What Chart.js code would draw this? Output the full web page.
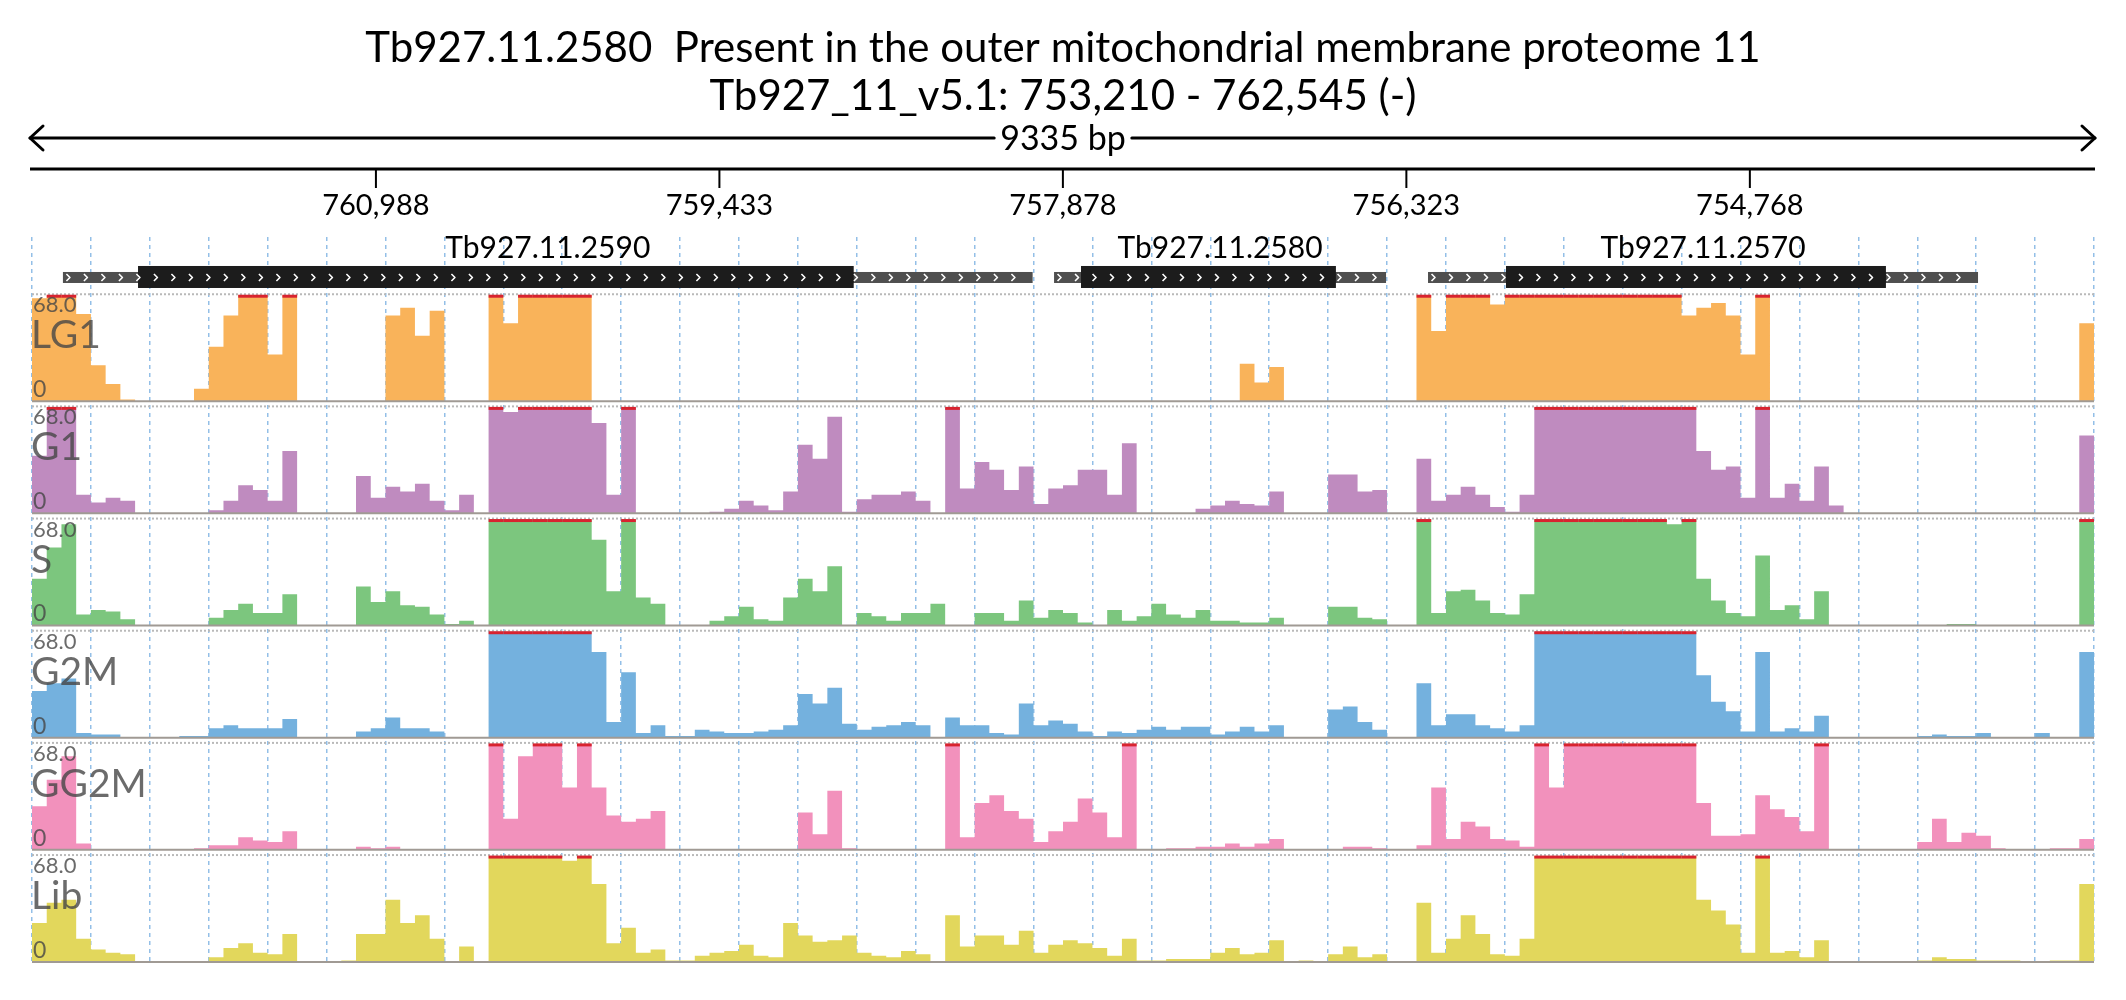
<!DOCTYPE html>
<html>
<head>
<meta charset="utf-8">
<script src="https://cdn.jsdelivr.net/npm/chart.js@4/dist/chart.umd.min.js"></script>
<style>
  html, body { margin: 0; padding: 0; background: #fff; }
  #wrap { width: 2126px; height: 1000px; }
</style>
</head>
<body>
<div id="wrap"><canvas id="graficoCobertura"></canvas></div>
<script>
const regionStart = 753210;
const regionEnd = 762545;
const chromosome = "Tb927_11_v5.1";
const geneId = "Tb927.11.2580";
const geneDescription = "Present in the outer mitochondrial membrane proteome 11";
const maxCoverage = 68;
const axisTicks = [760988, 759433, 757878, 756323, 754768];

const trackNames = ["LG1", "G1", "S", "G2M", "GG2M", "Lib"];
const trackColors = ["#f9b35a", "#bf8bbf", "#7cc67e", "#74b1de", "#f291bc", "#e2d75c"];

// gene models (bp): outer ends and coding part
const geneNames = ["Tb927.11.2590", "Tb927.11.2580", "Tb927.11.2570"];
const geneStarts = [762405, 757918, 756225];
const cdsStarts = [762065, 757796, 755872];
const cdsEnds = [758825, 756642, 754152];
const geneEnds = [758015, 756415, 753735];

// coverage per bin, left (762,545) to right (753,210); values above 68 are clipped
const lg1Values = [
  66,80,75,56, 23,11,1,0, 0,0,0,8, 35,55,80,72, 30,80,0,0,
  0,0,0,0, 55,60,42,58, 0,0,0,80, 50,80,80,80, 70,75,0,0,
  0,0,0,0, 0,0,0,0, 0,0,0,0, 0,0,0,0, 0,0,0,0,
  0,0,0,0, 0,0,0,0, 0,0,0,0, 0,0,0,0, 0,0,0,0,
  0,0,24,12, 22,0,0,0, 0,0,0,0, 0,0,80,45, 80,80,80,62,
  75,80,80,80, 80,80,80,80, 80,80,80,75, 55,60,63,55, 30,70,0,0,
  0,0,0,0, 0,0,0,0, 0,0,0,0, 0,0,0,0, 0,0,0,50
];
const g1Values = [
  37,80,75,12, 7,10,8,0, 0,0,0,0, 2,8,18,15, 8,40,0,0,
  0,0,24,10, 17,14,19,8, 2,12,0,80, 65,80,80,80, 80,80,58,12,
  80,0,0,0, 0,0,1,3, 8,5,2,14, 44,35,62,1, 9,12,12,14,
  8,0,80,16, 33,28,15,30, 6,16,18,28, 28,12,45,0, 0,0,0,3,
  5,8,6,5, 14,0,0,0, 25,25,14,15, 0,0,35,8, 12,17,12,4,
  1,12,80,80, 80,80,80,80, 80,80,80,70, 80,40,28,30, 10,70,10,19,
  8,30,5,0, 0,0,0,0, 0,0,0,0, 0,0,0,0, 0,0,0,50
];
const sValues = [
  30,50,65,7, 10,9,4,0, 0,0,0,0, 5,10,14,8, 8,20,0,0,
  0,0,25,15, 22,13,12,7, 1,3,0,80, 75,80,80,80, 80,80,55,22,
  80,18,14,0, 0,0,3,6, 12,4,3,18, 30,22,38,0, 8,6,3,8,
  8,14,0,0, 8,8,3,16, 5,10,8,2, 0,10,3,6, 14,7,5,10,
  3,3,2,2, 5,0,0,0, 12,12,5,4, 0,0,80,8, 22,23,16,8,
  7,20,80,80, 80,80,80,80, 80,80,80,65, 80,30,16,8, 6,45,10,13,
  4,22,0,0, 0,0,0,0, 0,0,1,1, 0,0,0,0, 0,0,0,80
];
const g2mValues = [
  30,35,38,3, 2,2,0,0, 0,0,1,1, 6,8,6,6, 6,12,0,0,
  0,0,4,6, 13,6,6,4, 0,0,0,80, 70,80,80,80, 70,80,55,10,
  42,3,8,1, 1,5,4,3, 3,4,5,8, 28,22,32,9, 5,7,8,10,
  8,0,13,8, 8,3,2,22, 8,11,9,4, 1,4,3,5, 7,5,7,7,
  2,4,7,4, 8,0,0,0, 18,20,10,5, 0,0,35,8, 15,15,8,6,
  4,8,80,80, 80,80,80,80, 80,80,80,70, 80,40,23,17, 4,55,4,6,
  4,14,0,0, 0,0,0,0, 1,2,1,1, 3,0,0,0, 3,0,0,55
];
const gg2mValues = [
  28,45,60,4, 0,0,0,0, 0,0,0,1, 3,3,8,6, 5,12,0,0,
  0,0,2,1, 2,0,0,0, 0,0,0,80, 20,60,80,80, 40,80,40,22,
  18,20,25,0, 0,0,0,0, 0,0,0,0, 24,10,38,1, 0,0,0,0,
  0,0,80,8, 30,35,25,20, 5,12,18,33, 24,8,80,0, 0,1,1,2,
  2,4,2,4, 7,0,0,0, 0,2,2,1, 0,0,3,40, 7,18,15,7,
  6,2,80,40, 75,80,80,80, 80,80,80,80, 80,30,9,9, 10,35,26,21,
  12,80,0,0, 0,0,0,0, 5,20,5,11, 9,1,0,0, 0,1,1,7
];
const libValues = [
  25,38,40,15, 8,6,5,0, 0,0,0,0, 3,9,12,6, 5,18,0,0,
  0,1,18,18, 40,25,30,15, 0,10,0,80, 75,80,80,80, 65,80,50,12,
  22,6,8,1, 1,4,6,7, 11,4,3,25, 17,13,14,17, 6,4,3,7,
  5,0,30,10, 17,17,11,20, 6,11,14,12, 9,4,15,1, 1,2,2,2,
  6,9,5,6, 14,0,1,0, 5,10,3,5, 0,0,38,6, 15,30,18,5,
  4,15,80,80, 80,80,80,80, 80,80,80,75, 80,40,33,24, 6,80,6,7,
  3,14,0,0, 0,0,0,0, 1,3,2,2, 1,1,1,0, 0,1,1,50
];

const trackValues = [lg1Values, g1Values, sValues, g2mValues, gg2mValues, libValues];
const binCount = lg1Values.length;
const binSize = (regionEnd - regionStart) / binCount;
const binEdge = i => regionEnd - i * binSize;
const gridStops = Array.from({length: 36}, (_, k) => regionEnd - k * (regionEnd - regionStart) / 35);
const fmt = v => v.toLocaleString("en-US");

function linha(ctx, x0, y0, x1, y1) {
  ctx.beginPath();
  ctx.moveTo(x0, y0);
  ctx.lineTo(x1, y1);
  ctx.stroke();
}

const datasets = trackValues.map((vals, t) => ({
  label: trackNames[t],
  data: vals.map((v, i) => ({x: binEdge(i), y: Math.min(v, maxCoverage)}))
    .concat([{x: regionStart, y: Math.min(vals[binCount - 1], maxCoverage)}]),
  yAxisID: "y" + t,
  stepped: true,
  fill: "origin",
  backgroundColor: trackColors[t],
  borderWidth: 0,
  pointRadius: 0
}));

// stacked left axes are laid out last-defined on top, so add them bottom track first
const scales = {
  x: {
    type: "linear", min: regionStart, max: regionEnd, reverse: true, position: "bottom", z: 1,
    afterBuildTicks: s => { s.ticks = gridStops.map(v => ({value: v})); },
    ticks: {display: false},
    border: {display: false, dash: [4, 4]},
    grid: {color: "rgba(120,175,225,0.8)", lineWidth: 1.5, drawTicks: false}
  }
};
for (let t = trackNames.length - 1; t >= 0; t--) {
  scales["y" + t] = {type: "linear", min: 0, max: 72, display: false, position: "left", stack: "tracks", stackWeight: 112.2};
}
scales.yGene = {type: "linear", min: 0, max: 1, display: false, position: "left", stack: "tracks", stackWeight: 52};

// reference lines, clipped caps and labels of each track
const trilhas = {
  id: "trilhas",
  afterDatasetsDraw(chart) {
    const {ctx, chartArea, scales: sc} = chart;
    trackNames.forEach((name, t) => {
      const y = sc["y" + t];
      const yTop = y.getPixelForValue(maxCoverage);
      const yBase = y.getPixelForValue(0);
      ctx.save();
      ctx.strokeStyle = "#b9b9b9";
      ctx.lineWidth = 2;
      ctx.setLineDash([2, 2]);
      linha(ctx, chartArea.left, yTop - 1, chartArea.right, yTop - 1);
      ctx.setLineDash([]);
      ctx.strokeStyle = "#a09a94";
      linha(ctx, chartArea.left, yBase, chartArea.right, yBase);
      ctx.strokeStyle = "#d8232f";
      ctx.lineWidth = 3;
      trackValues[t].forEach((v, i) => {
        if (v >= maxCoverage) {
          linha(ctx, sc.x.getPixelForValue(binEdge(i)), yTop + 1, sc.x.getPixelForValue(binEdge(i + 1)), yTop + 1);
        }
      });
      ctx.fillStyle = "rgba(70,70,70,0.8)";
      ctx.textAlign = "left";
      ctx.font = "22px Lato";
      ctx.fillText(maxCoverage.toFixed(1), chartArea.left + 1, yTop + 17);
      ctx.font = "39px Lato";
      ctx.fillText(name, chartArea.left - 1, yTop + 53);
      ctx.font = "23px Lato";
      ctx.fillText("0", chartArea.left + 1, yBase - 4);
      ctx.restore();
    });
  },
  afterDraw(chart) {
    const {ctx, chartArea, scales: sc} = chart;
    const x = sc.x;
    const cx = (chartArea.left + chartArea.right) / 2;
    const left = chartArea.left - 2, right = chartArea.right + 1;
    ctx.save();
    ctx.fillStyle = "#000";
    ctx.strokeStyle = "#000";
    ctx.textAlign = "center";
    ctx.font = "42px Lato";
    ctx.fillText(geneId + "  " + geneDescription, cx, 62);
    ctx.fillText(chromosome + ": " + fmt(regionStart) + " - " + fmt(regionEnd) + " (-)", cx, 110);

    // span arrow
    const spanText = (regionEnd - regionStart) + " bp";
    ctx.font = "34px Lato";
    const tw = ctx.measureText(spanText).width;
    ctx.fillText(spanText, cx, 150);
    ctx.lineWidth = 3;
    ctx.lineCap = "round";
    ctx.lineJoin = "round";
    linha(ctx, left, 138, cx - tw / 2 - 6, 138);
    linha(ctx, cx + tw / 2 + 6, 138, right, 138);
    ctx.beginPath();
    ctx.moveTo(left + 13, 126); ctx.lineTo(left, 138); ctx.lineTo(left + 13, 150);
    ctx.moveTo(right - 13, 126); ctx.lineTo(right, 138); ctx.lineTo(right - 13, 150);
    ctx.stroke();

    // coordinate axis
    ctx.lineCap = "butt";
    linha(ctx, left, 169, right, 169);
    ctx.lineWidth = 2;
    ctx.font = "29px Lato";
    axisTicks.forEach(v => {
      const px = x.getPixelForValue(v);
      linha(ctx, px, 169, px, 188);
      ctx.fillText(fmt(v), px, 215);
    });

    // gene models
    const base = sc.yGene.bottom;
    geneNames.forEach((name, k) => {
      const gx0 = x.getPixelForValue(geneStarts[k]);
      const gx1 = x.getPixelForValue(geneEnds[k]);
      const cx0 = x.getPixelForValue(cdsStarts[k]);
      const cx1 = x.getPixelForValue(cdsEnds[k]);
      ctx.fillStyle = "#4f4f4f";
      ctx.fillRect(gx0, base - 17, gx1 - gx0, 11);
      ctx.fillStyle = "#1c1c1c";
      ctx.fillRect(cx0, base - 23, cx1 - cx0, 22);
      ctx.strokeStyle = "#fff";
      ctx.lineWidth = 1.6;
      const yc = base - 11.5;
      for (let px = gx0 + 5; px < gx1 - 4; px += 17.5) {
        ctx.beginPath();
        ctx.moveTo(px - 1.5, yc - 3.5);
        ctx.lineTo(px + 2, yc);
        ctx.lineTo(px - 1.5, yc + 3.5);
        ctx.stroke();
      }
      ctx.fillStyle = "#000";
      ctx.font = "30px Lato";
      ctx.fillText(name, (gx0 + gx1) / 2, base - 31);
    });
    ctx.restore();
  }
};

new Chart(document.getElementById("graficoCobertura"), {
  type: "line",
  data: {datasets},
  options: {
    responsive: true,
    maintainAspectRatio: false,
    animation: false,
    devicePixelRatio: 1,
    layout: {padding: {left: 32, right: 32, top: 237, bottom: 38}},
    scales,
    plugins: {legend: {display: false}, tooltip: {enabled: false}}
  },
  plugins: [trilhas]
});
</script>
</body>
</html>
